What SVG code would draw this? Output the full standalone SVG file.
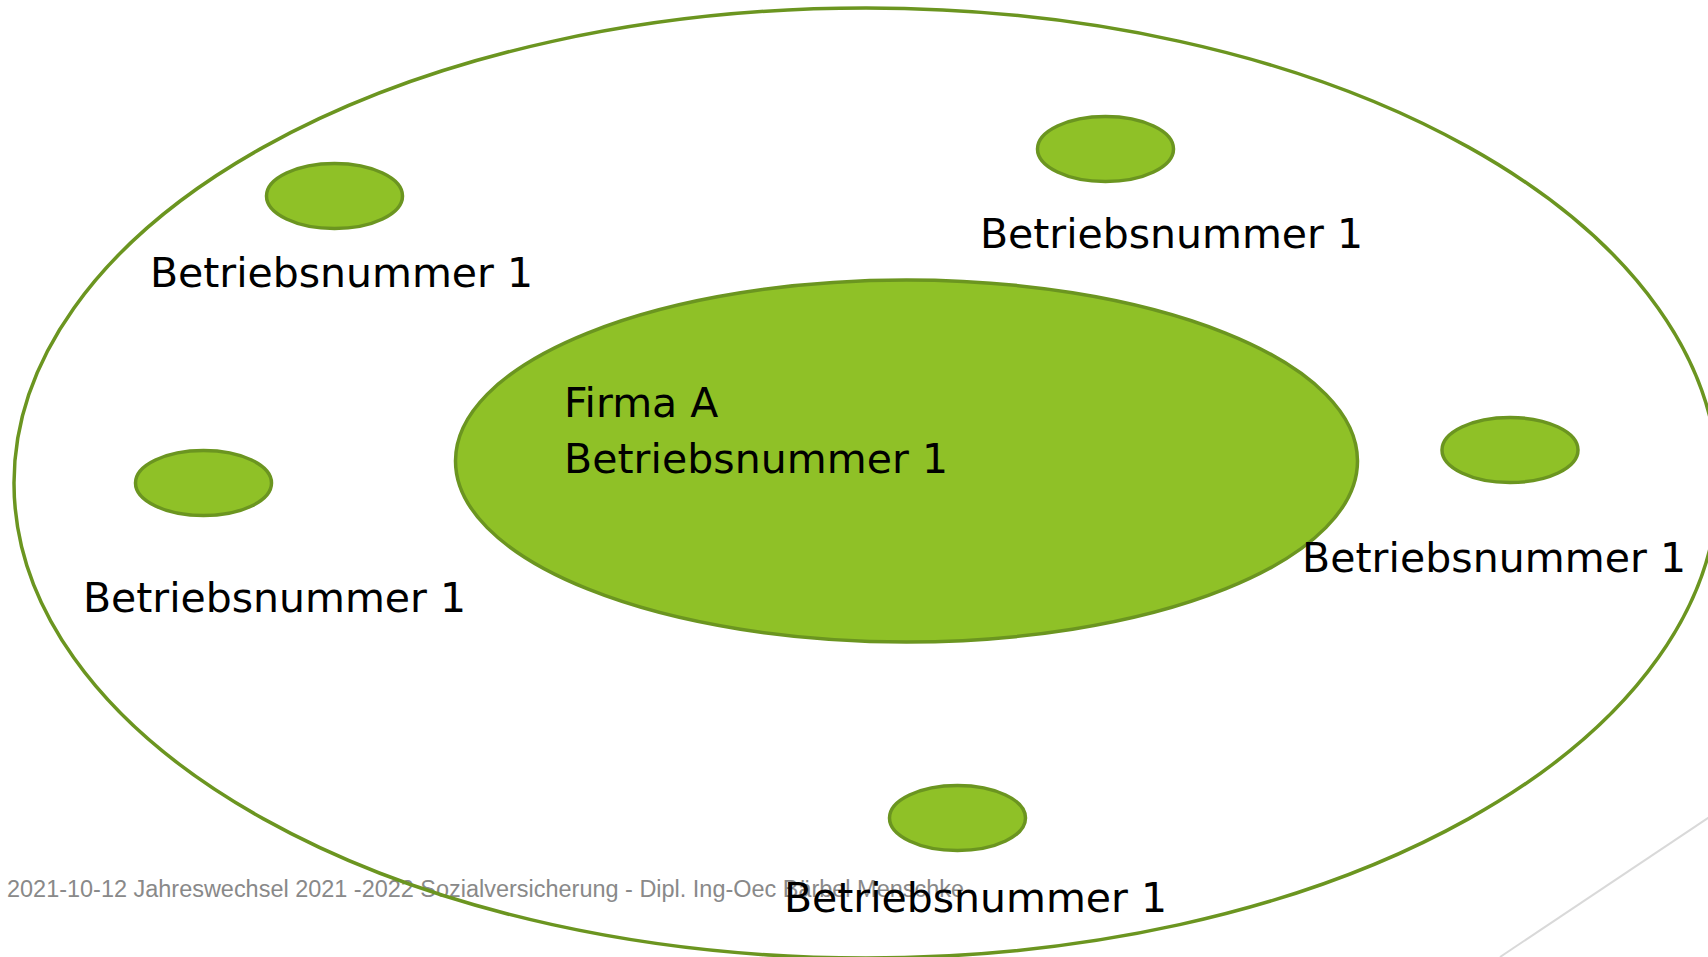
<svg xmlns="http://www.w3.org/2000/svg" width="1708" height="957" viewBox="0 0 1708 957">
<style>
.blob{fill:#8fc127;stroke:#6b9520;stroke-width:3.5}
.lbl{font-family:"DejaVu Sans",sans-serif;font-size:41px;fill:#000}
.foot{font-family:"Liberation Sans",sans-serif;font-size:23px;fill:#898989}
</style>
<rect width="1708" height="957" fill="#fff"/>
<line x1="1720" y1="810" x2="1500" y2="957" stroke="#d9d9d9" stroke-width="2"/>
<text class="foot" x="7" y="897" textLength="957" lengthAdjust="spacingAndGlyphs">2021-10-12 Jahreswechsel 2021 -2022 Sozialversicherung - Dipl. Ing-Oec Bärbel Menschke</text>
<g id="outer">
<ellipse cx="866" cy="483" rx="852" ry="475" fill="none" stroke="#6b9520" stroke-width="3.5"/>
</g>
<g id="center">
<ellipse class="blob" cx="906.5" cy="461" rx="451" ry="181"/>
<text class="lbl" x="564" y="417">Firma A</text>
<text class="lbl" x="564" y="473" textLength="384">Betriebsnummer 1</text>
</g>
<g id="node-top-left">
<ellipse class="blob" cx="334.5" cy="196" rx="68" ry="32.5"/>
<text class="lbl" x="150" y="287" textLength="383">Betriebsnummer 1</text>
</g>
<g id="node-top-right">
<ellipse class="blob" cx="1105.5" cy="149" rx="68" ry="32.5"/>
<text class="lbl" x="980" y="248" textLength="383">Betriebsnummer 1</text>
</g>
<g id="node-left">
<ellipse class="blob" cx="203.5" cy="483" rx="68" ry="32.5"/>
<text class="lbl" x="83" y="612" textLength="383">Betriebsnummer 1</text>
</g>
<g id="node-right">
<ellipse class="blob" cx="1510" cy="450" rx="68" ry="32.5"/>
<text class="lbl" x="1302" y="572" textLength="384">Betriebsnummer 1</text>
</g>
<g id="node-bottom">
<ellipse class="blob" cx="957.5" cy="818" rx="68" ry="32.5"/>
<text class="lbl" x="784" y="912" textLength="383">Betriebsnummer 1</text>
</g>
<g id="connectors"/>
</svg>
